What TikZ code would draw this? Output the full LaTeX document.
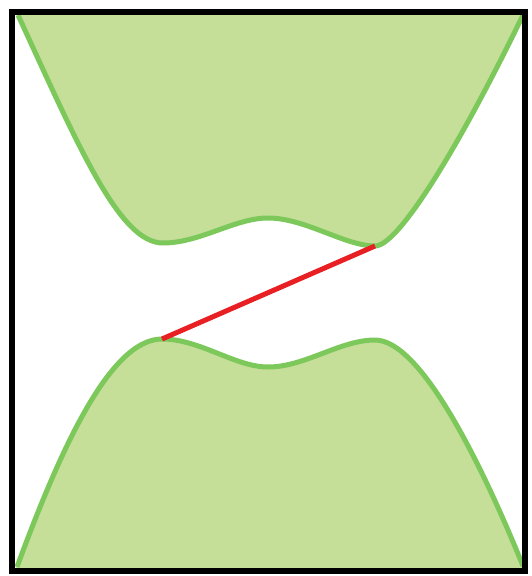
\documentclass[tikz,border=0pt]{standalone}
\definecolor{bandfill}{RGB}{197,222,152}
\definecolor{bandline}{RGB}{125,200,90}
\definecolor{gapred}{RGB}{232,32,36}
\begin{document}
\begin{tikzpicture}[x=1pt,y=-1pt,
  bandedge/.style={draw=bandline,line width=5pt,line join=round},
  frame/.style={draw=black,line width=5.5pt},
  gapline/.style={draw=gapred,line width=5pt}]
\useasboundingbox (0,0) rectangle (531,576);
\coordinate (tl) at (12,12);
\coordinate (br) at (525,571);
\coordinate (cbm) at (375,246);
\coordinate (vbm) at (162,339);
\def\cbpath{(18,15) .. controls (80,150) and (120,243) .. (163,243)
  .. controls (200,243) and (235,218) .. (268,218)
  .. controls (305,218) and (345,246) .. (cbm)
  .. controls (400,246) and (465,135) .. (523,15)}
\def\vbpath{(17,567) .. controls (60,450) and (110,339) .. (vbm)
  .. controls (200,339) and (235,367) .. (268,367)
  .. controls (305,367) and (340,340) .. (375,340)
  .. controls (420,340) and (480,460) .. (523,566)}
% conduction band
\fill[bandfill] (12,12) -- \cbpath -- (525,12) -- cycle;
\draw[bandedge] \cbpath;
% valence band
\fill[bandfill] (12,571) -- \vbpath -- (525,571) -- cycle;
\draw[bandedge] \vbpath;
% indirect gap
\draw[gapline] (vbm) -- (cbm);
% frame
\draw[frame] (tl) rectangle (br);
\end{tikzpicture}
\end{document}
